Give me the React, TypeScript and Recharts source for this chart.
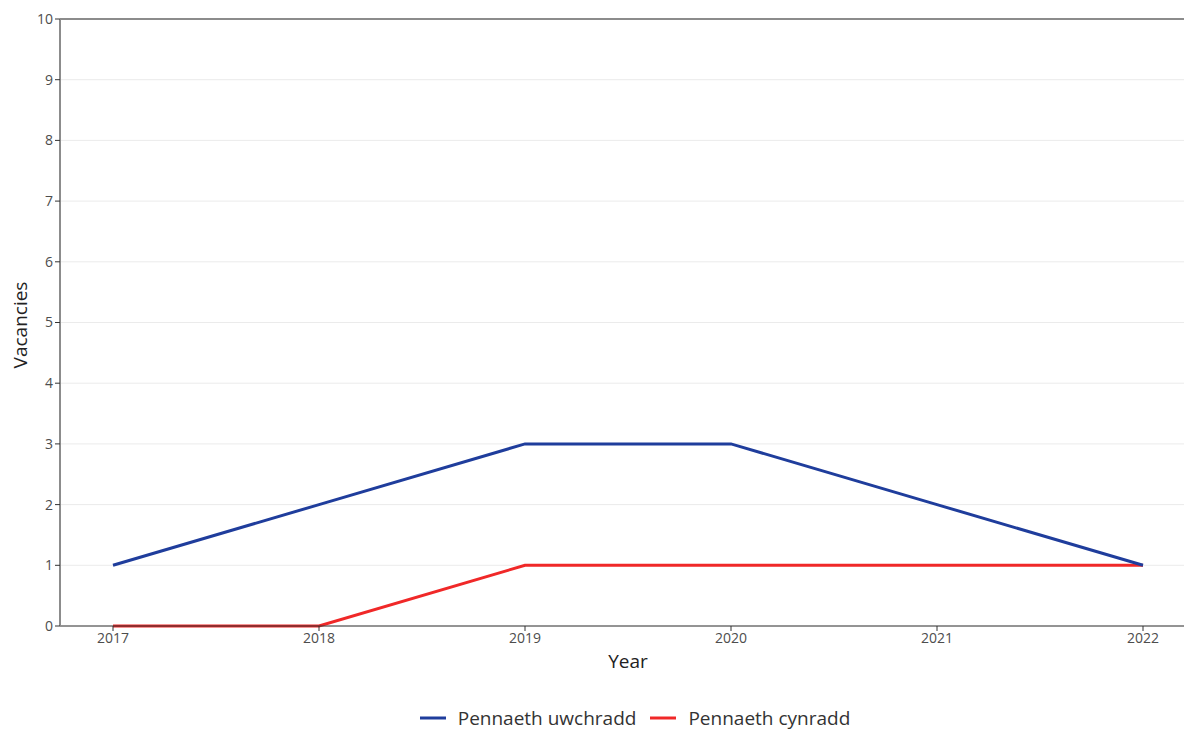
import React from 'react';
import { LineChart, Line, XAxis, YAxis, CartesianGrid, Legend, ReferenceLine } from 'recharts';

const years = ['2017', '2018', '2019', '2020', '2021', '2022'];
const uwchradd = [1, 2, 3, 3, 2, 1];
const cynradd = [0, 0, 1, 1, 1, 1];
const yTicks = [0, 1, 2, 3, 4, 5, 6, 7, 8, 9, 10];

const BLUE = '#1f3d9c';
const RED = '#f02828';
const FONT = '"Open Sans", "Noto Sans", sans-serif';

const data = years.map((year, i) => ({
    year,
    uwchradd: uwchradd[i],
    cynradd: cynradd[i],
}));

const legendItems = [
    { name: 'Pennaeth uwchradd', color: BLUE },
    { name: 'Pennaeth cynradd', color: RED },
];

function LegendContent() {
    return (
        <div style={{ display: 'flex', justifyContent: 'center', alignItems: 'center', height: 28, paddingLeft: 86, fontFamily: FONT, fontSize: 19, lineHeight: '28px', color: '#333' }}>
            {legendItems.map((item) => (
                <div key={item.name} style={{ display: 'flex', alignItems: 'center', margin: '0 7px' }}>
                    <svg width={26} height={10} style={{ marginRight: 12 }}>
                        <line x1={0} y1={5} x2={26} y2={5} stroke={item.color} strokeWidth={3} />
                    </svg>
                    <span>{item.name}</span>
                </div>
            ))}
        </div>
    );
}

export default function App() {
    return (
        <div style={{ position: 'absolute', left: 0, top: 0, background: '#fff' }}>
            <LineChart width={1184} height={729} data={data} margin={{ top: 19, right: 0, left: 0, bottom: 0 }}>
                <CartesianGrid vertical={false} stroke="#ebebeb" strokeWidth={1} />
                <XAxis
                    dataKey="year"
                    height={75}
                    padding={{ left: 53, right: 41 }}
                    axisLine={{ stroke: '#333', strokeWidth: 1 }}
                    tickLine={{ stroke: '#333' }}
                    tickSize={5}
                    tick={{ fill: '#4d4d4d', fontSize: 14, fontFamily: FONT }}
                    label={{
                        content: () => (
                            <text x={628} y={661} textAnchor="middle" dominantBaseline="central" fill="#222" fontSize={19} fontFamily={FONT}>
                                Year
                            </text>
                        ),
                    }}
                />
                <YAxis
                    width={60}
                    domain={[0, 10]}
                    ticks={yTicks}
                    interval={0}
                    axisLine={{ stroke: '#8c8c8c', strokeWidth: 2 }}
                    tickLine={{ stroke: '#333' }}
                    tickSize={5}
                    tick={{ fill: '#4d4d4d', fontSize: 14, fontFamily: FONT }}
                    label={{
                        content: () => (
                            <text x={20} y={325} transform="rotate(-90 20 325)" textAnchor="middle" dominantBaseline="central" fill="#222" fontSize={19} fontFamily={FONT}>
                                Vacancies
                            </text>
                        ),
                    }}
                />
                <ReferenceLine y={10} stroke="#8c8c8c" strokeWidth={2} />
                <Legend verticalAlign="bottom" height={28} wrapperStyle={{ bottom: -3 }} content={<LegendContent />} />
                <Line type="linear" dataKey="cynradd" name="Pennaeth cynradd" stroke={RED} strokeWidth={3} dot={false} isAnimationActive={false} />
                <Line type="linear" dataKey="uwchradd" name="Pennaeth uwchradd" stroke={BLUE} strokeWidth={3} dot={false} isAnimationActive={false} />
            </LineChart>
        </div>
    );
}
